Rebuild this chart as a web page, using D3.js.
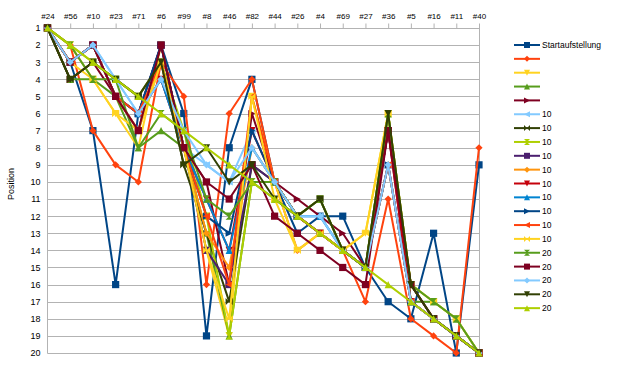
<!DOCTYPE html>
<html lang="de">
<head>
<meta charset="UTF-8">
<title>Positionen</title>
<script src="https://d3js.org/d3.v7.min.js"></script>
<style>
  body { margin: 0; background: #fff; }
  svg { font-family: "Liberation Sans", Arial, sans-serif; }
</style>
</head>
<body>
<div class="chart"></div>
<script>
// categories (car numbers) along the top axis
var cars = ["#24","#56","#10","#23","#71","#6","#99","#8","#46","#82",
            "#44","#26","#4","#69","#27","#36","#5","#16","#11","#40"];

// series names as they appear in the legend
var seriesNames = ["Startaufstellung","","","","","10","10","10","10","10",
                   "10","10","10","10","10","20","20","20","20","20"];

// positions per series, one value per car
var s01 = [1,3,7,16,6,2,6,19,8,4,10,13,12,12,15,17,18,13,20,9];
var s02 = [1,2,7,9,10,3,5,16,6,4,10,14,13,14,17,11,18,19,20,8];
var s03 = [1,2,4,6,8,2,8,14,19,5,10,14,13,14,13,6,16,17,18,20];
var s04 = [1,4,4,5,8,7,8,13,19,10,11,12,13,14,15,6,17,17,18,20];
var s05 = [1,4,3,5,7,2,8,10,16,6,10,11,12,13,15,7,16,18,19,20];
var s06 = [1,3,2,4,6,4,8,9,10,7,10,12,12,14,15,9,17,18,19,20];
var s07 = [1,4,3,4,5,3,9,13,17,9,10,12,11,14,15,7,16,18,19,20];
var s08 = [1,2,3,4,5,3,7,12,19,10,10,12,11,14,15,6,17,18,19,20];
var s09 = [1,3,2,5,6,2,8,14,16,9,10,12,13,14,15,7,17,18,19,20];
var s10 = [1,3,2,5,7,3,8,13,15,8,10,12,13,14,15,9,17,18,19,20];
var s11 = [1,3,2,5,6,4,8,11,14,7,10,12,13,14,15,7,17,18,19,20];
var s12 = [1,3,2,5,6,4,8,11,14,8,10,12,12,14,15,9,17,18,19,20];
var s13 = [1,3,2,5,6,2,8,12,13,7,10,12,13,14,15,9,17,18,19,20];
var s14 = [1,3,2,5,6,3,8,12,16,5,10,12,13,14,15,9,17,18,19,20];
var s15 = [1,3,4,6,7,3,8,14,18,5,11,14,13,14,13,6,16,17,18,20];
var s16 = [1,2,4,4,8,6,7,11,12,10,10,12,11,14,15,6,16,17,18,20];
var s17 = [1,3,2,5,7,2,8,10,11,9,12,13,14,15,16,7,16,18,19,20];
var s18 = [1,3,2,4,6,4,7,9,10,8,10,12,12,14,15,9,17,18,19,20];
var s19 = [1,4,3,4,5,3,9,8,10,9,11,12,11,14,15,6,16,18,19,20];
var s20 = [1,2,3,4,5,6,7,8,9,10,11,12,13,14,15,16,17,18,19,20];

var allSeries = [s01,s02,s03,s04,s05,s06,s07,s08,s09,s10,
                 s11,s12,s13,s14,s15,s16,s17,s18,s19,s20];

var yTicks = d3.range(1, 21);

// LibreOffice default palette and marker cycle
var palette = ["#004586","#ff420e","#ffd320","#579d1c","#7e0021","#83caff",
               "#314004","#aecf00","#4b1f6f","#ff950e","#c5000b","#0084d1"];
var shapes = ["square","diamond","down","up","right","left","bowtie","hourglass"];

function markerPath(type, r) {
  switch (type) {
    case "square":    return "M" + -r + "," + -r + "H" + r + "V" + r + "H" + -r + "Z";
    case "diamond":   return "M0," + -r + "L" + r + ",0L0," + r + "L" + -r + ",0Z";
    case "down":      return "M" + -r + "," + -r + "L" + r + "," + -r + "L0," + r + "Z";
    case "up":        return "M" + -r + "," + r + "L" + r + "," + r + "L0," + -r + "Z";
    case "right":     return "M" + -r + "," + -r + "L" + r + ",0L" + -r + "," + r + "Z";
    case "left":      return "M" + r + "," + -r + "L" + -r + ",0L" + r + "," + r + "Z";
    case "bowtie":    return "M" + -r + "," + -r + "L" + r + "," + r + "L" + r + "," + -r + "L" + -r + "," + r + "Z";
    case "hourglass": return "M" + -r + "," + -r + "L" + r + "," + -r + "L" + -r + "," + r + "L" + r + "," + r + "Z";
  }
}

var svg = d3.select(".chart").append("svg")
    .attr("width", 619)
    .attr("height", 376);

// plot area edges
var pLeft = 47.5, pRight = 479, pTop = 28, pBottom = 353;

var x = d3.scalePoint().domain(cars).range([pLeft, pRight]).padding(0);
var y = d3.scaleLinear().domain([1, 20]).range([pTop, pBottom]);

// horizontal gridlines
svg.append("g")
    .selectAll("line")
    .data(yTicks)
    .enter().append("line")
    .attr("x1", pLeft).attr("x2", pRight)
    .attr("y1", d => Math.round(y(d)) + 0.5)
    .attr("y2", d => Math.round(y(d)) + 0.5)
    .style("stroke", "#b3b3b3");

// left and right borders
svg.append("line")
    .attr("x1", pLeft).attr("x2", pLeft)
    .attr("y1", pTop).attr("y2", pBottom + 0.5)
    .style("stroke", "#b3b3b3");
svg.append("line")
    .attr("x1", pRight + 0.5).attr("x2", pRight + 0.5)
    .attr("y1", pTop).attr("y2", pBottom + 0.5)
    .style("stroke", "#b3b3b3");

// top axis with car numbers
var xAxis = svg.append("g")
    .attr("transform", "translate(0," + (Math.round(pTop) + 0.5) + ")")
    .call(d3.axisTop(x).tickSize(5).tickPadding(5));
xAxis.select(".domain").remove();
xAxis.selectAll("line").style("stroke", "#b3b3b3");
xAxis.selectAll("text").style("font-size", "8px").style("fill", "#000");

// left axis with positions
var yAxis = svg.append("g")
    .attr("transform", "translate(" + pLeft + ",0)")
    .call(d3.axisLeft(y).tickValues(yTicks).tickSize(0).tickPadding(7));
yAxis.select(".domain").remove();
yAxis.selectAll("text").style("font-size", "9px").style("fill", "#000");

// y-axis title
svg.append("text")
    .attr("transform", "translate(14,184) rotate(-90)")
    .style("text-anchor", "middle")
    .style("font-size", "9px")
    .text("Position");

var line = d3.line()
    .x((d, i) => x(cars[i]))
    .y(d => y(d));

allSeries.forEach(function(vals, k) {
  var col = palette[k % palette.length];
  var shp = shapes[k % shapes.length];
  var g = svg.append("g");
  g.append("path")
      .datum(vals)
      .attr("d", line)
      .style("fill", "none")
      .style("stroke", col)
      .style("stroke-width", 2)
      .style("stroke-linejoin", "round");
  g.selectAll("path.mark")
      .data(vals)
      .enter().append("path")
      .attr("class", "mark")
      .attr("transform", (d, i) => "translate(" + x(cars[i]) + "," + y(d) + ")")
      .attr("d", markerPath(shp, 3.6))
      .style("fill", col);
});

// legend
var L = svg.selectAll(".legend")
    .data(seriesNames)
    .enter().append("g")
    .attr("class", "legend")
    .attr("transform", (d, i) => "translate(514," + (45 + i * 13.85) + ")");

L.append("line")
    .attr("x1", 0).attr("x2", 26)
    .style("stroke", (d, i) => palette[i % palette.length])
    .style("stroke-width", 2);

L.append("path")
    .attr("transform", "translate(13,0)")
    .attr("d", (d, i) => markerPath(shapes[i % shapes.length], 3))
    .style("fill", (d, i) => palette[i % palette.length]);

L.append("text")
    .attr("x", 28)
    .attr("y", 3)
    .style("font-size", "8.5px")
    .text(d => d);
</script>
</body>
</html>
